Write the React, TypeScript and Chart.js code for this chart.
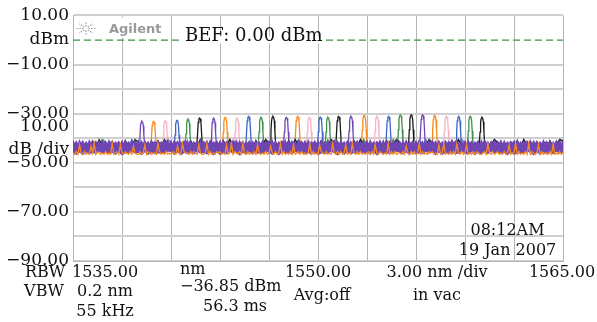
import React, { useEffect, useRef } from "react";
import { Chart, registerables } from "chart.js";
Chart.register(...registerables);

// ---------- axis data ----------
const WL_MIN = 1535;
const WL_MAX = 1565;
const WL_STEP = 3;
const P_MIN = -90;
const P_MAX = 10;
const Y_TICK_VALUES = [10, 0, -10, -20, -30, -40, -50, -60, -70, -80, -90];
const Y_TICK_TEXT: (string | string[])[] = [
  "10.00", "dBm", "\u221210.00", "", "\u221230.00", ["10.00", "dB /div"],
  "\u221250.00", "", "\u221270.00", "", "\u221290.00",
];
const BEF_LEVEL = 0;

// ---------- text ----------
const LOGO_TEXT = "Agilent";
const BEF_TEXT = "BEF: 0.00 dBm";
const X_START_LABEL = "1535.00";
const X_CENTER_LABEL = "1550.00";
const X_END_LABEL = "1565.00";
const X_CENTER_VALUE = 1550;
const RBW_LABELS = ["RBW", "VBW"];
const RBW_VALUES = ["0.2 nm", "55 kHz"];
const MARKER_LINES = ["nm", "\u221236.85 dBm", "56.3 ms"];
const AVG_TEXT = "Avg:off";
const SPAN_LINES = ["3.00 nm /div", "in vac"];
const DATE_LINES = ["08:12AM", "19 Jan 2007"];

// ---------- peaks (nm, dBm) ----------
const PURPLE_PEAK_NM = [1539.22, 1543.61, 1548.06, 1552.02, 1556.4];
const PURPLE_PEAK_DBM = [-33.1, -31.8, -31.5, -31.1, -30.5];
const ORANGE_PEAK_NM = [1539.93, 1544.32, 1548.75, 1552.83, 1557.14];
const ORANGE_PEAK_DBM = [-33.1, -31.5, -31.1, -30.7, -30.7];
const PINK_PEAK_NM = [1540.65, 1545.04, 1549.47, 1553.61, 1557.86];
const PINK_PEAK_DBM = [-32.9, -31.8, -31.5, -31.1, -31.1];
const BLUE_PEAK_NM = [1541.37, 1545.75, 1550.14, 1554.32, 1558.61];
const BLUE_PEAK_DBM = [-32.7, -31.1, -31.4, -31.1, -31.1];
const GREEN_PEAK_NM = [1542.04, 1546.51, 1550.61, 1555.04, 1559.32];
const GREEN_PEAK_DBM = [-32.2, -31.5, -31.5, -30.5, -31.1];
const BLACK_PEAK_NM = [1542.75, 1547.24, 1551.26, 1555.71, 1560.04];
const BLACK_PEAK_DBM = [-31.8, -31.1, -31.1, -30.5, -31.5];

// peak outline: offset from centre (nm) and drop below the peak top (dB)
const PEAK_OFFSETS = [-0.16, -0.12, -0.085, -0.045, 0, 0.045, 0.085, 0.12, 0.16];
const PEAK_DROPS = [11, 6, 1.8, 0.4, 0, 0.4, 1.8, 6, 11];

// ---------- noise floor, read as depth steps below each trace's top ----------
// dense purple floor: upper and lower edge of the band
const PURPLE_UPPER = `1829071938 0718293817 2906183729 1807392618 0928173906 2718390718 1906283917 0829371806 2719083618 1908273906
0817293618 2907381926 1708293618 0927183906 2819073618 1708392716 0928173819 2706183928 1908372618 0827193706
2918073619 1807293816 0729183917 2608193728 1907283619 0817392618 2709183726 1908372619 0817293806 2918370619 1`;
const PURPLE_LOWER = `4829173605 2738194605 3918274650 1829364705 4719283605 2938174650 3829164705 1738294650 4928173605 2819374650 3729184605 1928374650 4819273605 2739184650 3918274605 2`;
const ORANGE_NOISE = `8979289798 9381978989 7989198792 8978979389 9798297898 8917989798 9789389178 8979789289 9819798978 7989298197
8979189798 9792898979 8389798197 9897929879 7989819798 9278979891 8979798298 9189797989 8797928978 9891979798
8979389797 9819798978 7989298198 9797918979 8298979789 9879189798 7989798298 8197989791 9789829798 8979198979 8`;
const PINK_NOISE = `3927461850 4829371605 2938471650 5839271640 3728491605 4938271650 2849371605 3928471650 5729381640 3849271605 4928371650 2739481605 3948271650 4829371605 2938471650 6`;
const BLUE_NOISE = `2849371650 3928471605 5837291640 2947381650 4839271605 3728491650 5938271604 2849371650 3928471605 4738291650 2938471605 5829371640 3947281650 2839471605 4928371650 3`;
const GREEN_NOISE = `5928371640 2839471650 4938271605 3729481650 2849371605 5938271640 3827491650 4928371605 2739481650 5839271604 3948271650 2837491605 4928371650 3749281605 5928371640 2`;
const BLACK_NOISE = `1938472605 4827391650 2938471605 3847291650 5928371604 2839471650 4738291605 3928471650 2849371605 5738291640 3928471650 4829371605 2938471650 3847291605 4928371650 1`;

const PURPLE_UPPER_TOP = -40.9;
const PURPLE_UPPER_DEPTH = 0.2;
const PURPLE_LOWER_TOP = -45.2;
const PURPLE_LOWER_DEPTH = 0.17;
const ORANGE_TOP = -41.6;
const ORANGE_DEPTH = 0.55;
const OTHER_TOP = -40.5;
const OTHER_DEPTH = 0.5;
const PEAK_BASE = -42;

const SERIF = "'DejaVu Serif', serif";
const PURPLE = "#6f45b3";

function noiseTrace(noise: string, top: number, depth: number) {
  const digits = noise.replace(/\s/g, "");
  const n = digits.length;
  const step = (WL_MAX - WL_MIN) / (n - 1);
  const pts: { x: number; y: number }[] = [];
  for (let i = 0; i < n; i++) pts.push({ x: WL_MIN + i * step, y: top - depth * Number(digits[i]) });
  return pts;
}

function peakTrace(peaksNm: number[], peaksDbm: number[]) {
  const pts: { x: number; y: number | null }[] = [];
  peaksNm.forEach((c, k) => {
    PEAK_OFFSETS.forEach((o, j) =>
      pts.push({ x: c + o, y: PEAK_DROPS[j] > 8 ? PEAK_BASE : peaksDbm[k] - PEAK_DROPS[j] })
    );
    pts.push({ x: c + 0.2, y: null });
  });
  return pts;
}

const osaTextPlugin = {
  id: "osaText",
  afterDraw(chart: any) {
    const { ctx, chartArea } = chart;
    const xs = chart.scales.x;
    const L = chartArea.left, T = chartArea.top, B = chartArea.bottom, R = chartArea.right;
    ctx.save();
    ctx.fillStyle = "#fff";
    ctx.fillRect(L + 1, T + 2, 95, 20);
    const cx = L + 13, cy = T + 13;
    ctx.strokeStyle = "#a0a0a0";
    ctx.lineWidth = 1.2;
    ctx.setLineDash([1.5, 1.2]);
    for (let k = 0; k < 8; k++) {
      const a = (k * Math.PI) / 4;
      ctx.beginPath();
      ctx.moveTo(cx + Math.cos(a) * 2.5, cy + Math.sin(a) * 2);
      ctx.lineTo(cx + Math.cos(a) * 9.5, cy + Math.sin(a) * 6.5);
      ctx.stroke();
    }
    ctx.setLineDash([]);
    ctx.fillStyle = "#9a9a9a";
    ctx.font = "bold 13px 'DejaVu Sans', sans-serif";
    ctx.textAlign = "left";
    ctx.textBaseline = "alphabetic";
    ctx.fillText(LOGO_TEXT, L + 36, T + 17.5);

    ctx.fillStyle = "#fff";
    ctx.fillRect(L + 109, T + 21, 144, 7);
    ctx.fillStyle = "#111";
    ctx.font = `18px ${SERIF}`;
    ctx.fillText(BEF_TEXT, L + 112, T + 25.5);

    const t = (s: string, x: number, y: number, align: CanvasTextAlign) => {
      ctx.textAlign = align;
      ctx.fillText(s, x, y);
    };
    ctx.font = `16px ${SERIF}`;
    t(RBW_LABELS[0], 45, B + 16, "center");
    t(RBW_LABELS[1], 44, B + 35, "center");
    t(X_START_LABEL, L - 1, B + 16, "left");
    t(RBW_VALUES[0], L + 32, B + 35, "center");
    t(RBW_VALUES[1], L + 32, B + 55, "center");
    t(MARKER_LINES[0], L + 107, B + 13, "left");
    t(MARKER_LINES[1], L + 107, B + 30, "left");
    t(MARKER_LINES[2], L + 162, B + 50, "center");
    t(X_CENTER_LABEL, xs.getPixelForValue(X_CENTER_VALUE), B + 16, "center");
    t(AVG_TEXT, L + 249, B + 38.5, "center");
    t(SPAN_LINES[0], L + 364, B + 16, "center");
    t(SPAN_LINES[1], L + 364, B + 38.5, "center");
    t(X_END_LABEL, R - 1, B + 16, "center");
    t(DATE_LINES[0], R - 55.5, B - 26, "center");
    t(DATE_LINES[1], R - 55.5, B - 6, "center");
    ctx.restore();
  },
};

export default function App() {
  const ref = useRef<HTMLCanvasElement>(null);
  useEffect(() => {
    if (!ref.current) return;
    const line = (data: any, color: string, w: number, extra: any = {}) => ({
      data, borderColor: color, borderWidth: w, pointRadius: 0, tension: 0, fill: false, ...extra,
    });
    // first dataset is drawn on top
    const datasets: any[] = [
      line(noiseTrace(ORANGE_NOISE, ORANGE_TOP, ORANGE_DEPTH), "#f7891f", 1.3),
      line(noiseTrace(PURPLE_UPPER, PURPLE_UPPER_TOP, PURPLE_UPPER_DEPTH), PURPLE, 1.2, {
        fill: "+1",
        backgroundColor: PURPLE,
      }),
      line(noiseTrace(PURPLE_LOWER, PURPLE_LOWER_TOP, PURPLE_LOWER_DEPTH), PURPLE, 1.2),
      line(noiseTrace(BLACK_NOISE, OTHER_TOP, OTHER_DEPTH), "#1a1a1a", 1.1),
      line(noiseTrace(GREEN_NOISE, OTHER_TOP, OTHER_DEPTH), "#3f8f4a", 1.1),
      line(noiseTrace(BLUE_NOISE, OTHER_TOP, OTHER_DEPTH), "#3d63c4", 1.1),
      line(noiseTrace(PINK_NOISE, OTHER_TOP, OTHER_DEPTH), "#f4b3c4", 1.1),
      line(peakTrace(PURPLE_PEAK_NM, PURPLE_PEAK_DBM), PURPLE, 1.3, { spanGaps: false }),
      line(peakTrace(ORANGE_PEAK_NM, ORANGE_PEAK_DBM), "#f7891f", 1.3, { spanGaps: false }),
      line(peakTrace(BLACK_PEAK_NM, BLACK_PEAK_DBM), "#1a1a1a", 1.3, { spanGaps: false }),
      line(peakTrace(GREEN_PEAK_NM, GREEN_PEAK_DBM), "#3f8f4a", 1.3, { spanGaps: false }),
      line(peakTrace(BLUE_PEAK_NM, BLUE_PEAK_DBM), "#3d63c4", 1.3, { spanGaps: false }),
      line(peakTrace(PINK_PEAK_NM, PINK_PEAK_DBM), "#f4b3c4", 1.3, { spanGaps: false }),
      line([{ x: WL_MIN, y: BEF_LEVEL }, { x: WL_MAX, y: BEF_LEVEL }], "#3a933f", 1.3, { borderDash: [7, 4] }),
    ];
    const chart = new Chart(ref.current, {
      type: "line",
      data: { datasets },
      plugins: [osaTextPlugin],
      options: {
        animation: false,
        responsive: true,
        maintainAspectRatio: false,
        devicePixelRatio: 1,
        layout: { padding: { top: 15, right: 34, left: 0, bottom: 0 } },
        plugins: { legend: { display: false }, tooltip: { enabled: false } },
        scales: {
          x: {
            type: "linear",
            min: WL_MIN,
            max: WL_MAX,
            ticks: { display: false, stepSize: WL_STEP },
            grid: { color: "#b4b4b4", lineWidth: 1, drawTicks: false },
            border: { color: "#b4b4b4" },
            afterFit: (s: any) => { s.height = 61; },
          },
          y: {
            min: P_MIN,
            max: P_MAX,
            afterBuildTicks: (s: any) => { s.ticks = Y_TICK_VALUES.map((v) => ({ value: v })); },
            ticks: {
              color: "#111",
              padding: 4,
              autoSkip: false,
              font: { family: SERIF, size: 17, lineHeight: 1.35 },
              callback: (v: any) => {
                const i = Y_TICK_VALUES.indexOf(Number(v));
                return i >= 0 ? Y_TICK_TEXT[i] : "";
              },
            },
            grid: {
              color: (c: any) => (c.tick && c.tick.value === BEF_LEVEL ? "rgba(0,0,0,0)" : "#d0d0d0"),
              lineWidth: 2,
              drawTicks: false,
            },
            border: { color: "#b4b4b4" },
            afterFit: (s: any) => { s.width = 73; },
          },
        },
      },
    } as any);
    return () => chart.destroy();
  }, []);
  return (
    <div style={{ position: "fixed", left: 0, top: 0, width: 597, height: 322, background: "#fff" }}>
      <canvas ref={ref} />
    </div>
  );
}
